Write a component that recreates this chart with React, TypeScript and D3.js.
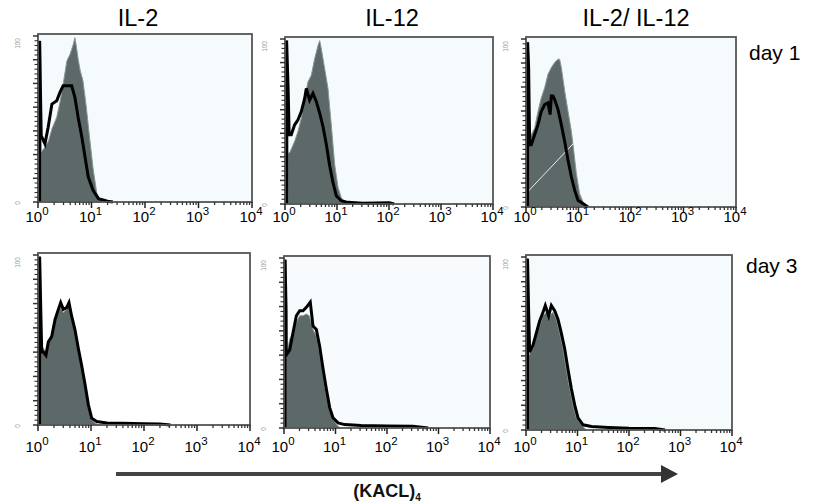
import React from 'react';
import * as d3 from 'd3';

// histogram outlines: [log10 intensity, fraction of max count]
const fillA = [[0,0.97],[0.05,0.97],[0.06,0.30],[0.13,0.33],[0.2,0.37],[0.26,0.44],[0.35,0.51],[0.41,0.60],[0.47,0.71],[0.54,0.85],[0.6,0.89],[0.66,0.95],[0.69,0.99],[0.72,0.93],[0.75,0.86],[0.79,0.79],[0.84,0.73],[0.9,0.58],[0.97,0.37],[1.03,0.2],[1.1,0.05],[1.19,0]];
const lineA = [[0.03,0],[0.03,0.97],[0.06,0.40],[0.13,0.35],[0.19,0.45],[0.26,0.59],[0.35,0.61],[0.41,0.66],[0.47,0.70],[0.57,0.70],[0.63,0.70],[0.69,0.63],[0.75,0.51],[0.82,0.39],[0.88,0.27],[0.94,0.15],[1.03,0.07],[1.13,0.02],[1.3,0.005],[1.4,0]];

const fillB = [[0,0.99],[0.05,0.99],[0.06,0.31],[0.09,0.31],[0.186,0.38],[0.25,0.44],[0.314,0.52],[0.378,0.64],[0.442,0.74],[0.506,0.78],[0.57,0.88],[0.635,0.96],[0.667,0.99],[0.699,0.94],[0.763,0.82],[0.827,0.70],[0.89,0.48],[0.955,0.24],[1.02,0.10],[1.08,0.04],[1.15,0.01],[1.2,0]];
const lineB = [[0.03,0],[0.03,0.99],[0.06,0.70],[0.08,0.42],[0.12,0.42],[0.186,0.48],[0.25,0.51],[0.314,0.56],[0.378,0.64],[0.41,0.70],[0.474,0.63],[0.538,0.67],[0.603,0.62],[0.667,0.55],[0.73,0.47],[0.795,0.36],[0.86,0.23],[0.923,0.13],[0.987,0.05],[1.08,0.02],[1.21,0.01],[1.5,0.005],[2.0,0.008],[2.1,0]];

const fillC = [[0,0.98],[0.05,0.98],[0.06,0.41],[0.07,0.41],[0.165,0.47],[0.229,0.57],[0.292,0.65],[0.356,0.71],[0.419,0.79],[0.483,0.83],[0.546,0.86],[0.61,0.88],[0.64,0.88],[0.673,0.83],[0.737,0.69],[0.8,0.57],[0.864,0.45],[0.896,0.37],[0.959,0.20],[1.02,0.08],[1.086,0.03],[1.15,0]];
const lineC = [[0.03,0],[0.03,0.98],[0.05,0.83],[0.07,0.37],[0.10,0.37],[0.165,0.43],[0.229,0.49],[0.292,0.57],[0.356,0.61],[0.419,0.62],[0.46,0.55],[0.483,0.66],[0.514,0.66],[0.546,0.64],[0.61,0.58],[0.673,0.49],[0.737,0.39],[0.8,0.28],[0.864,0.18],[0.927,0.10],[0.99,0.04],[1.09,0.02],[1.18,0]];

const fillD = [[0,0.99],[0.05,0.99],[0.06,0.47],[0.15,0.43],[0.2,0.49],[0.26,0.53],[0.32,0.62],[0.38,0.66],[0.43,0.69],[0.48,0.66],[0.54,0.68],[0.585,0.70],[0.635,0.62],[0.70,0.55],[0.76,0.44],[0.82,0.34],[0.89,0.23],[0.95,0.11],[1.01,0.03],[1.08,0.01],[1.15,0]];
const lineD = [[0.03,0],[0.03,0.99],[0.05,0.71],[0.07,0.43],[0.10,0.43],[0.15,0.41],[0.195,0.49],[0.258,0.52],[0.321,0.62],[0.384,0.68],[0.428,0.72],[0.478,0.68],[0.541,0.69],[0.585,0.72],[0.635,0.64],[0.698,0.56],[0.761,0.45],[0.824,0.35],[0.887,0.24],[0.95,0.12],[1.013,0.04],[1.107,0.02],[1.3,0.012],[1.6,0.01],[2.0,0.008],[2.3,0.006],[2.5,0]];

const fillE = [[0,0.99],[0.04,0.99],[0.045,0.41],[0.11,0.52],[0.175,0.56],[0.24,0.62],[0.304,0.66],[0.369,0.66],[0.434,0.67],[0.49,0.66],[0.563,0.58],[0.628,0.54],[0.693,0.44],[0.757,0.31],[0.822,0.19],[0.887,0.10],[0.951,0.05],[1.049,0.01],[1.1,0]];
const lineE = [[0.02,0],[0.02,0.99],[0.04,0.70],[0.045,0.43],[0.11,0.46],[0.175,0.56],[0.24,0.66],[0.304,0.69],[0.369,0.69],[0.434,0.71],[0.51,0.74],[0.563,0.60],[0.628,0.58],[0.693,0.48],[0.757,0.35],[0.822,0.23],[0.887,0.12],[0.951,0.06],[1.049,0.03],[1.18,0.02],[1.5,0.015],[2.0,0.012],[2.5,0.01],[2.8,0]];

const fillF = [[0,0.99],[0.04,0.99],[0.052,0.43],[0.136,0.47],[0.2,0.55],[0.265,0.60],[0.33,0.66],[0.395,0.68],[0.46,0.66],[0.524,0.68],[0.589,0.64],[0.654,0.56],[0.718,0.47],[0.783,0.35],[0.848,0.24],[0.912,0.145],[0.977,0.07],[1.074,0.03],[1.17,0]];
const lineF = [[0.03,0],[0.03,0.99],[0.05,0.70],[0.071,0.45],[0.136,0.49],[0.2,0.56],[0.265,0.63],[0.33,0.68],[0.375,0.72],[0.44,0.66],[0.492,0.72],[0.557,0.69],[0.621,0.64],[0.686,0.56],[0.751,0.47],[0.816,0.35],[0.88,0.24],[0.945,0.145],[1.01,0.07],[1.107,0.03],[1.27,0.02],[1.6,0.015],[2.0,0.01],[2.5,0.008],[2.7,0]];

// stray white streak in the IL-2/IL-12 day 1 plot
const streakC = [[0,0.08],[0.91,0.38]];

const columnTitles = ['IL-2', 'IL-12', 'IL-2/ IL-12'];
const rowLabels = ['day 1', 'day 3'];
const decadeExponents = [0, 1, 2, 3, 4];
const xAxisTitle = '(KACL)';
const xAxisSub = '4';

const FONT = '"Liberation Sans", Arial, Helvetica, sans-serif';

const layout = [
  { L: 38, T: 34, R: 252, B: 202, base: 222, bg: '#f5fafd', fill: fillA, line: lineA },
  { L: 285, T: 37, R: 493, B: 204, base: 222, bg: '#f5fafd', fill: fillB, line: lineB },
  { L: 526, T: 37, R: 736, B: 207, base: 222, bg: '#f5fafd', fill: fillC, line: lineC, streak: streakC },
  { L: 38, T: 253, R: 250, B: 425, base: 452, bg: '#ffffff', fill: fillD, line: lineD },
  { L: 284, T: 256, R: 490, B: 428, base: 452, bg: '#f8fbfd', fill: fillE, line: lineE },
  { L: 526, T: 255, R: 732, B: 430, base: 452, bg: '#f5fafd', fill: fillF, line: lineF },
];

function Panel({ p }) {
  const x = d3.scaleLog().domain([1, 1e4]).range([p.L, p.R]);
  const y = d3.scaleLinear().domain([0, 1]).range([p.B, p.T + 2]);
  const px = (d) => x(Math.pow(10, d[0]));
  const area = d3.area().x(px).y0(p.B).y1((d) => y(d[1]));
  const line = d3.line().x(px).y((d) => y(d[1]));

  const minor = [];
  for (let e = 0; e < 4; e++) {
    for (let k = 2; k <= 9; k++) minor.push(k * Math.pow(10, e));
  }
  const yt = d3.scaleLinear().domain([0, 35]).range([p.B, p.T + 2]);
  const yTicks = d3.range(0, 36);

  return (
    <g>
      <rect x={p.L} y={p.T} width={p.R - p.L} height={p.B - p.T} fill={p.bg} />
      <path d={area(p.fill)} fill="#5d6868" stroke="#8c9696" strokeWidth={1} />
      {p.streak && <path d={line(p.streak)} stroke="#e8eeee" strokeWidth={1} fill="none" />}
      <path d={line(p.line)} fill="none" stroke="#000" strokeWidth={3} strokeLinejoin="miter" />
      <rect x={p.L} y={p.T} width={p.R - p.L} height={p.B - p.T} fill="none" stroke="#555" strokeWidth={1.8} />
      {yTicks.map((t) => (
        <line key={'y' + t} x1={p.L - (t % 5 === 0 ? 5 : 3.5)} x2={p.L} y1={yt(t)} y2={yt(t)} stroke="#333" strokeWidth={t % 5 === 0 ? 1.5 : 1.1} />
      ))}
      {minor.map((v) => (
        <line key={'m' + v} x1={x(v)} x2={x(v)} y1={p.B} y2={p.B + 3} stroke="#333" strokeWidth={1.3} />
      ))}
      {decadeExponents.map((e) => (
        <line key={'M' + e} x1={x(Math.pow(10, e))} x2={x(Math.pow(10, e))} y1={p.B} y2={p.B + 6} stroke="#222" strokeWidth={1.5} />
      ))}
      {decadeExponents.map((e) => (
        <text key={'l' + e} x={x(Math.pow(10, e)) - 1} y={p.base} textAnchor="middle" fontFamily={FONT} fontSize={15} fill="#000">
          <tspan>10</tspan>
          <tspan dy={-7} fontSize={11.5}>{e}</tspan>
        </text>
      ))}
      <text transform={`translate(${p.L - 18},${p.T + 4}) rotate(-90)`} fontFamily={FONT} fontSize={6.5} fill="#999" textAnchor="end">100</text>
      <text transform={`translate(${p.L - 18},${p.B + 1}) rotate(-90)`} fontFamily={FONT} fontSize={6.5} fill="#999" textAnchor="middle">0</text>
    </g>
  );
}

export default function App() {
  const arrowX = d3.scaleLinear().domain([0, 1]).range([116, 678]);
  const titleX = [138, 392, 636];
  return (
    <svg width={814} height={504} style={{ position: 'absolute', left: 0, top: 0, background: '#fff' }}>
      {layout.map((p, i) => <Panel key={i} p={p} />)}
      {columnTitles.map((t, i) => (
        <text key={t} x={titleX[i]} y={26} textAnchor="middle" fontFamily={FONT} fontSize={23.5} fill="#000">{t}</text>
      ))}
      <text x={749} y={60} fontFamily={FONT} fontSize={21} fill="#000">{rowLabels[0]}</text>
      <text x={746} y={273} fontFamily={FONT} fontSize={21} fill="#000">{rowLabels[1]}</text>
      <line x1={arrowX(0)} x2={arrowX(1) - 14} y1={474} y2={474} stroke="#444" strokeWidth={4} />
      <path d={`M${arrowX(1)},474 L${arrowX(1) - 17},465 L${arrowX(1) - 17},483 Z`} fill="#333" />
      <text x={387} y={497} textAnchor="middle" fontFamily={FONT} fontSize={18} fontWeight="bold" fill="#111">
        <tspan>{xAxisTitle}</tspan>
        <tspan dy={4} fontSize={10}>{xAxisSub}</tspan>
      </text>
    </svg>
  );
}
